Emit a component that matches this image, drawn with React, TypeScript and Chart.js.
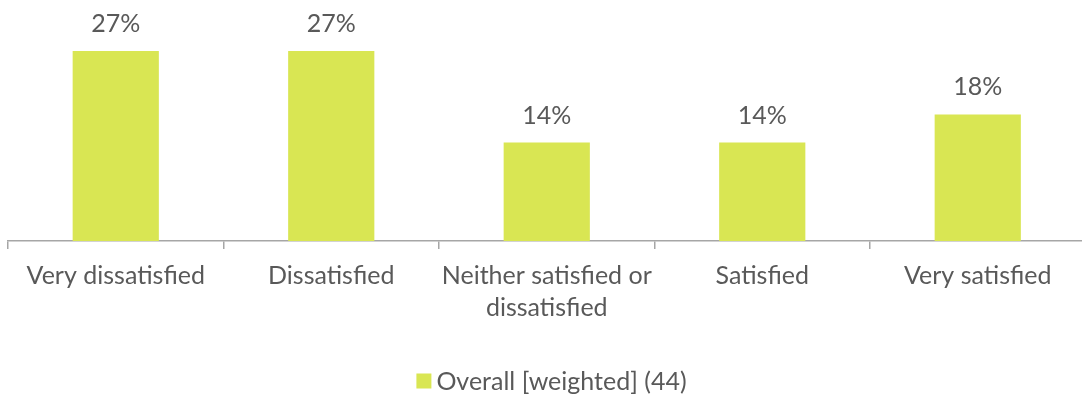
import React, { useEffect, useRef } from "react";
import { Chart, registerables } from "chart.js";

Chart.register(...registerables);

const categories: (string | string[])[] = [
  "Very dissatisfied",
  "Dissatisfied",
  ["Neither satisfied or", "dissatisfied"],
  "Satisfied",
  "Very satisfied",
];
const seriesLabel = "Overall [weighted] (44)";
const seriesValues = [27, 27, 14, 14, 18];
const valueLabels = ["27%", "27%", "14%", "14%", "18%"];
const yMax = 30;

const BAR_COLOR = "#D9E653";
const TEXT_COLOR = "#595959";
const AXIS_COLOR = "#A6A6A6";
const FONT = "Lato";
const FONT_SIZE = 25;

const valueLabelPlugin = {
  id: "valueLabels",
  afterDatasetsDraw(chart: any) {
    const ctx = chart.ctx;
    const meta = chart.getDatasetMeta(0);
    ctx.save();
    ctx.font = `${FONT_SIZE}px ${FONT}`;
    ctx.fillStyle = TEXT_COLOR;
    ctx.textAlign = "center";
    ctx.textBaseline = "alphabetic";
    meta.data.forEach((bar: any, i: number) => {
      ctx.fillText(valueLabels[i], bar.x, bar.y - 19);
    });
    ctx.restore();
  },
};

const legendPlugin = {
  id: "customLegend",
  afterDraw(chart: any) {
    const ctx = chart.ctx;
    const ds = chart.data.datasets[0];
    ctx.save();
    ctx.font = `${FONT_SIZE}px ${FONT}`;
    const tw = ctx.measureText(ds.label).width;
    const box = 15;
    const gap = 5;
    const total = box + gap + tw;
    const cx = 551.5;
    const cy = 381;
    const x0 = cx - total / 2;
    ctx.fillStyle = ds.backgroundColor;
    ctx.fillRect(x0, cy - box / 2, box, box);
    ctx.fillStyle = TEXT_COLOR;
    ctx.textAlign = "left";
    ctx.textBaseline = "middle";
    ctx.fillText(ds.label, x0 + box + gap, cy + 1);
    ctx.restore();
  },
};

export default function App() {
  const ref = useRef<HTMLCanvasElement | null>(null);

  useEffect(() => {
    if (!ref.current) return;
    const chart = new Chart(ref.current, {
      type: "bar",
      data: {
        labels: categories,
        datasets: [
          {
            label: seriesLabel,
            data: seriesValues,
            backgroundColor: BAR_COLOR,
            borderWidth: 0,
            barPercentage: 0.4,
            categoryPercentage: 1,
          },
        ],
      },
      options: {
        responsive: false,
        animation: false,
        layout: { padding: { left: 8, right: 4.5, top: 30, bottom: 50 } },
        plugins: {
          legend: { display: false },
          tooltip: { enabled: false },
        },
        scales: {
          x: {
            grid: {
              display: true,
              drawOnChartArea: false,
              drawTicks: true,
              tickLength: 8,
              color: AXIS_COLOR,
              lineWidth: 1.5,
            },
            border: { display: true, color: AXIS_COLOR, width: 1.5 },
            ticks: {
              color: TEXT_COLOR,
              font: { family: FONT, size: FONT_SIZE, lineHeight: 1.28 },
              padding: 11,
              maxRotation: 0,
              autoSkip: false,
            },
            afterFit(scale: any) {
              scale.height = 105;
            },
          },
          y: {
            display: false,
            min: 0,
            max: yMax,
          },
        },
      },
      plugins: [valueLabelPlugin, legendPlugin],
    });
    return () => chart.destroy();
  }, []);

  return (
    <div
      style={{
        position: "fixed",
        left: 0,
        top: 0,
        width: 1082,
        height: 396,
        overflow: "hidden",
        background: "#fff",
      }}
    >
      <canvas ref={ref} width={1090} height={396} style={{ display: "block" }} />
    </div>
  );
}
